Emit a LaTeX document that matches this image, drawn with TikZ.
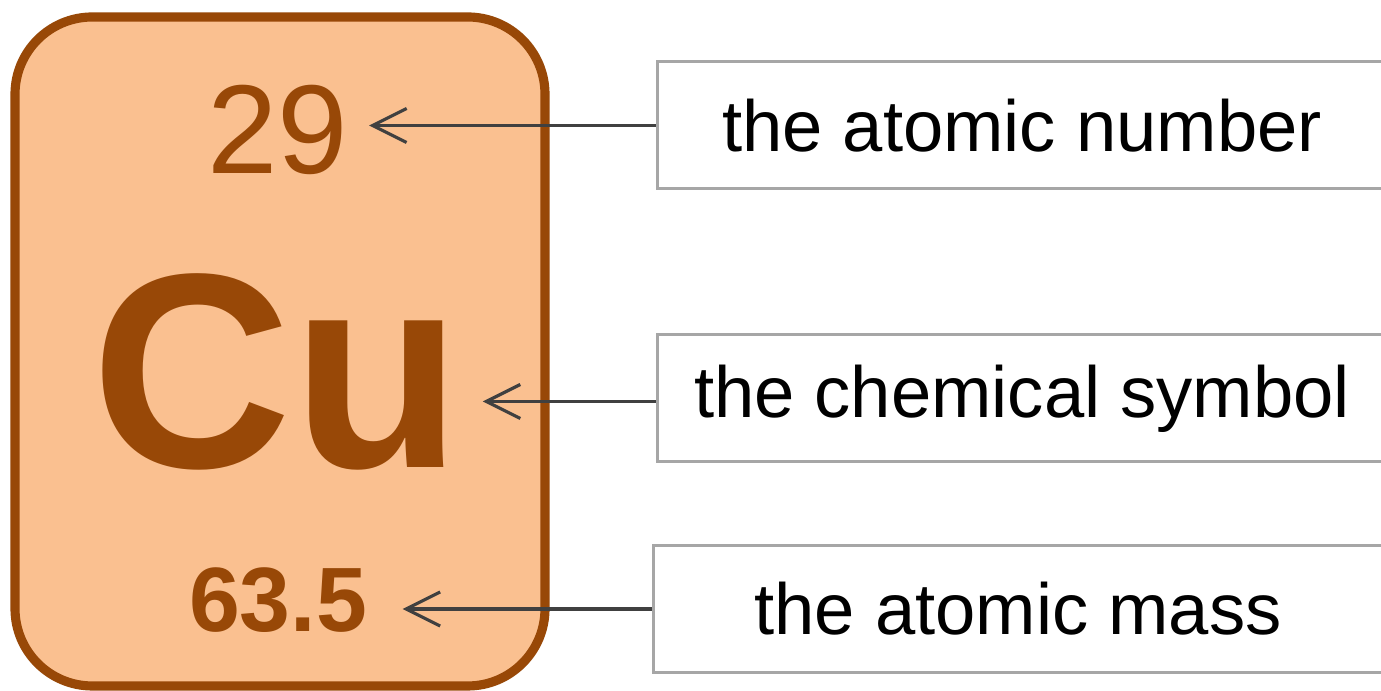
\documentclass[tikz,border=0pt]{standalone}
\usepackage{fontspec}
\setmainfont{Liberation Sans}
\usetikzlibrary{arrows.meta,positioning}
\definecolor{cellfill}{HTML}{FAC090}
\definecolor{cellbrown}{HTML}{984807}
\definecolor{boxgray}{HTML}{A6A6A6}
\definecolor{arrowink}{HTML}{404040}

\begin{document}
\begin{tikzpicture}[
  cell/.style={draw=cellbrown,fill=cellfill,line width=2.6pt,rounded corners=22pt},
  cellnum/.style={inner sep=0pt,text=cellbrown,font=\fontsize{36}{40}\selectfont},
  cellsym/.style={inner sep=0pt,text=cellbrown,font=\fontsize{79}{90}\selectfont\bfseries},
  cellmass/.style={inner sep=0pt,text=cellbrown,font=\fontsize{26}{30}\selectfont\bfseries},
  labelbox/.style={draw=boxgray,fill=white,line width=0.85pt,minimum width=7.3cm,
                   minimum height=1.27cm,inner sep=0pt,font=\fontsize{20.6}{24}\selectfont},
  pointer/.style={-{Straight Barb[length=3.4mm,width=3.4mm]},line width=0.9pt,draw=arrowink}
]
\clip (0,0) rectangle (13.81,6.91);
\fill[white] (0,0) rectangle (13.81,6.91);

% Periodic table cell.
\draw[cell] (0.15,0.05) rectangle (5.45,6.74);
\node[cellnum] (num) at (2.78,5.61) {29};
\node[cellsym] (sym) at (2.77,3.19) {Cu};
\node[cellmass] (mass) at (2.78,0.91) {63.5};

% Labels.
\node[labelbox] (lnum) at (10.22,5.655) {the atomic number};
\node[labelbox] (lsym) at (10.22,2.925) {the chemical symbol};
\node[labelbox] (lmass) at (10.18,0.82) {the atomic mass};

\draw[pointer,shorten >=0.20cm] (lnum.west) -- (lnum.west -| num.east);
\draw[pointer,shorten >=0.20cm] ([yshift=-0.03cm]lsym.west) -- ([yshift=-0.03cm]lsym.west -| sym.east);
\draw[pointer,shorten >=0.35cm] (lmass.west) -- (lmass.west -| mass.east);

\end{tikzpicture}
\end{document}
